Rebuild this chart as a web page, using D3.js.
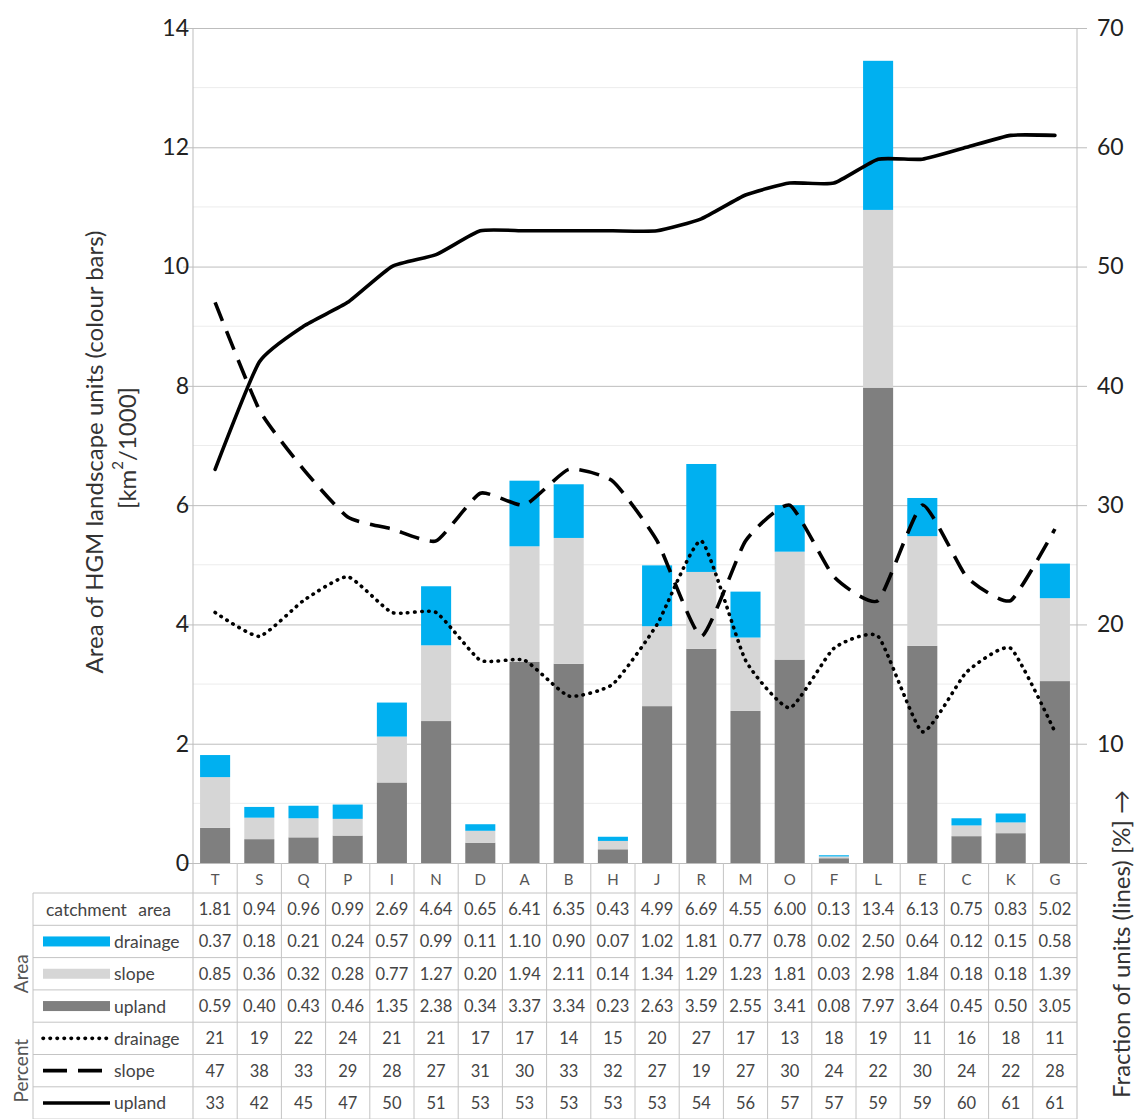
<!DOCTYPE html>
<html>
<head>
<meta charset="utf-8">
<script src="https://cdn.jsdelivr.net/npm/d3@7"></script>
<style>
  body { margin: 0; background: #fff; }
  text { font-family: Lato, "Open Sans", sans-serif; }
</style>
</head>
<body>
<div class="chart"></div>
<script>
// catchments, sorted by upland fraction
var categories = ["T","S","Q","P","I","N","D","A","B","H","J","R","M","O","F","L","E","C","K","G"];

// areas [km2/1000]
var catchmentArea = [1.81,0.94,0.96,0.99,2.69,4.64,0.65,6.41,6.35,0.43,4.99,6.69,4.55,6.00,0.13,13.4,6.13,0.75,0.83,5.02];
var drainageArea = [0.37,0.18,0.21,0.24,0.57,0.99,0.11,1.10,0.90,0.07,1.02,1.81,0.77,0.78,0.02,2.50,0.64,0.12,0.15,0.58];
var slopeArea = [0.85,0.36,0.32,0.28,0.77,1.27,0.20,1.94,2.11,0.14,1.34,1.29,1.23,1.81,0.03,2.98,1.84,0.18,0.18,1.39];
var uplandArea = [0.59,0.40,0.43,0.46,1.35,2.38,0.34,3.37,3.34,0.23,2.63,3.59,2.55,3.41,0.08,7.97,3.64,0.45,0.50,3.05];

// fractions [%]
var drainagePct = [21,19,22,24,21,21,17,17,14,15,20,27,17,13,18,19,11,16,18,11];
var slopePct = [47,38,33,29,28,27,31,30,33,32,27,19,27,30,24,22,30,24,22,28];
var uplandPct = [33,42,45,47,50,51,53,53,53,53,53,54,56,57,57,59,59,60,61,61];

var leftTicks = [0,2,4,6,8,10,12,14];
var rightTicks = [10,20,30,40,50,60,70];

var svgWidth = 1139;
var svgHeight = 1119;

//plot area
var plot = { left: 193, right: 1077, top: 28, bottom: 863 };

var svg = d3.select(".chart").append("svg")
    .attr("width", svgWidth)
    .attr("height", svgHeight);

var xScale = d3.scaleBand()
    .domain(categories)
    .range([plot.left, plot.right])
    .paddingInner(0.32)
    .paddingOuter(0.16);

var xCenter = d => xScale(d) + xScale.bandwidth() / 2;

var yLeft = d3.scaleLinear().domain([0, 14]).range([plot.bottom, plot.top]);
var yRight = d3.scaleLinear().domain([0, 70]).range([plot.bottom, plot.top]);

var gridColor = "#bdbdbd";

//faint minor gridlines
svg.append("g").selectAll("line")
    .data(d3.range(1, 14, 2))
    .enter().append("line")
    .attr("x1", plot.left).attr("x2", plot.right)
    .attr("y1", d => yLeft(d)).attr("y2", d => yLeft(d))
    .attr("stroke", "#ececec");

//left axis with gridlines
var leftAxis = d3.axisLeft(yLeft)
    .tickValues(leftTicks)
    .tickSize(-(plot.right - plot.left + 10))
    .tickPadding(14);

svg.append("g")
    .attr("transform", `translate(${plot.left}, 0)`)
    .call(leftAxis)
    .call(g => g.select(".domain").remove())
    .call(g => g.selectAll(".tick line").attr("x1", -10).attr("x2", plot.right - plot.left + 10).attr("stroke", gridColor))
    .call(g => g.selectAll(".tick text").attr("font-size", 23).attr("fill", "#222").attr("dx", 10));

//right axis labels
var rightAxis = d3.axisRight(yRight)
    .tickValues(rightTicks)
    .tickSize(0)
    .tickPadding(20);

svg.append("g")
    .attr("transform", `translate(${plot.right}, 0)`)
    .call(rightAxis)
    .call(g => g.select(".domain").remove())
    .call(g => g.selectAll(".tick text").attr("font-size", 23).attr("fill", "#222"));

//vertical axis lines
svg.append("line")
    .attr("x1", plot.left).attr("x2", plot.left)
    .attr("y1", plot.top).attr("y2", svgHeight)
    .attr("stroke", gridColor);
svg.append("line")
    .attr("x1", plot.right).attr("x2", plot.right)
    .attr("y1", plot.top).attr("y2", svgHeight)
    .attr("stroke", gridColor);

//stacked bars
var rows = categories.map(function(c, i) {
    return { cat: c, upland: uplandArea[i], slope: slopeArea[i], drainage: drainageArea[i] };
});
var colors = { upland: "#7f7f7f", slope: "#d6d6d6", drainage: "#00b0f0" };
var series = d3.stack().keys(["upland", "slope", "drainage"])(rows);

svg.append("g").selectAll("g")
    .data(series)
    .enter().append("g")
    .attr("fill", d => colors[d.key])
    .selectAll("rect")
    .data(d => d)
    .enter().append("rect")
    .attr("x", d => xScale(d.data.cat))
    .attr("width", xScale.bandwidth())
    .attr("y", d => yLeft(d[1]))
    .attr("height", d => yLeft(d[0]) - yLeft(d[1]));

//fraction lines (lightly smoothed like the spreadsheet)
var line = d3.line()
    .x((d, i) => xCenter(categories[i]))
    .y(d => yRight(d))
    .curve(d3.curveCardinal.tension(0.5));

var lineStyles = [
    { values: drainagePct, dash: "0.5,6.5", cap: "round" },
    { values: slopePct, dash: "20,11", cap: "butt" },
    { values: uplandPct, dash: null, cap: "round" }
];

svg.append("g").selectAll("path")
    .data(lineStyles)
    .enter().append("path")
    .attr("d", d => line(d.values))
    .attr("fill", "none")
    .attr("stroke", "#000")
    .attr("stroke-width", 3.6)
    .attr("stroke-linecap", d => d.cap)
    .attr("stroke-linejoin", "round")
    .attr("stroke-dasharray", d => d.dash);

//axis titles
svg.append("text")
    .attr("transform", "translate(93, 452) rotate(-90)")
    .attr("text-anchor", "middle")
    .attr("dominant-baseline", "central")
    .attr("font-size", 24)
    .attr("fill", "#333")
    .text("Area of HGM landscape units (colour bars)");

var unitLabel = svg.append("text")
    .attr("transform", "translate(126, 448) rotate(-90)")
    .attr("text-anchor", "middle")
    .attr("dominant-baseline", "central")
    .attr("font-size", 24)
    .attr("fill", "#333");
unitLabel.append("tspan").text("[km");
unitLabel.append("tspan").attr("font-size", 15).attr("dy", -9).text("2");
unitLabel.append("tspan").attr("dy", 9).text("/1000]");

svg.append("text")
    .attr("transform", "translate(1120, 790) rotate(-90)")
    .attr("text-anchor", "end")
    .attr("dominant-baseline", "central")
    .attr("font-size", 24)
    .attr("fill", "#333")
    .text("Fraction of units (lines) [%] \u2192");

//data table below the chart
var table = { left: 33, top: plot.bottom, catRow: 30, rowH: 32.3 };
var tableColor = "#c4c4c4";
var tableRows = [
    { label: "catchment area", values: catchmentArea, swatch: null },
    { label: "drainage", values: drainageArea, swatch: "bar", color: colors.drainage },
    { label: "slope", values: slopeArea, swatch: "bar", color: colors.slope },
    { label: "upland", values: uplandArea, swatch: "bar", color: colors.upland },
    { label: "drainage", values: drainagePct, swatch: "line", dash: "0.5,6.5", cap: "round" },
    { label: "slope", values: slopePct, swatch: "line", dash: "24,11", cap: "butt" },
    { label: "upland", values: uplandPct, swatch: "line", dash: null, cap: "butt" }
];
var rowTop = i => table.top + table.catRow + i * table.rowH;

var tableGroup = svg.append("g");

//column lines
tableGroup.selectAll(".col")
    .data(categories.slice(1))
    .enter().append("line")
    .attr("x1", d => xScale(d) - xScale.step() * xScale.paddingInner() / 2)
    .attr("x2", d => xScale(d) - xScale.step() * xScale.paddingInner() / 2)
    .attr("y1", table.top).attr("y2", svgHeight)
    .attr("stroke", tableColor);

//row lines
tableGroup.selectAll(".row")
    .data(d3.range(tableRows.length + 1))
    .enter().append("line")
    .attr("x1", table.left).attr("x2", plot.right)
    .attr("y1", d => rowTop(d)).attr("y2", d => rowTop(d))
    .attr("stroke", tableColor);

tableGroup.append("line")
    .attr("x1", table.left).attr("x2", table.left)
    .attr("y1", rowTop(0)).attr("y2", svgHeight)
    .attr("stroke", tableColor);

//category letters
tableGroup.selectAll(".cat")
    .data(categories)
    .enter().append("text")
    .attr("x", d => xCenter(d))
    .attr("y", table.top + table.catRow / 2 + 1)
    .attr("text-anchor", "middle")
    .attr("dominant-baseline", "central")
    .attr("font-size", 15)
    .attr("fill", "#555")
    .text(d => d);

var fmt = function(v, i) {
    if (i >= 4) return d3.format("d")(v);
    return v >= 10 ? v.toFixed(1) : v.toFixed(2);
};

tableRows.forEach(function(r, i) {
    var cy = rowTop(i) + table.rowH / 2;
    var g = tableGroup.append("g");
    g.selectAll("text")
        .data(r.values)
        .enter().append("text")
        .attr("x", (d, j) => xCenter(categories[j]))
        .attr("y", cy)
        .attr("text-anchor", "middle")
        .attr("dominant-baseline", "central")
        .attr("font-size", 16.5)
        .attr("fill", "#444")
        .text(d => fmt(d, i));

    g.append("text")
        .attr("x", r.swatch ? 114 : 46)
        .attr("y", cy)
        .attr("dominant-baseline", "central")
        .attr("font-size", 17.5)
        .attr("word-spacing", r.swatch ? 0 : 7)
        .attr("fill", "#444")
        .text(r.label);

    if (r.swatch === "bar") {
        g.append("rect")
            .attr("x", 43).attr("width", 67)
            .attr("y", cy - 5).attr("height", 10)
            .attr("fill", r.color);
    } else if (r.swatch === "line") {
        g.append("line")
            .attr("x1", 43).attr("x2", 110)
            .attr("y1", cy).attr("y2", cy)
            .attr("stroke", "#000")
            .attr("stroke-width", 3.6)
            .attr("stroke-linecap", r.cap)
            .attr("stroke-dasharray", r.dash);
    }
});

//group labels
[["Area", 1, 4], ["Percent", 4, 7]].forEach(function(gl) {
    svg.append("text")
        .attr("transform", `translate(20, ${(rowTop(gl[1]) + rowTop(gl[2])) / 2}) rotate(-90)`)
        .attr("text-anchor", "middle")
        .attr("dominant-baseline", "central")
        .attr("font-size", 19)
        .attr("fill", "#555")
        .text(gl[0]);
});
</script>
</body>
</html>
